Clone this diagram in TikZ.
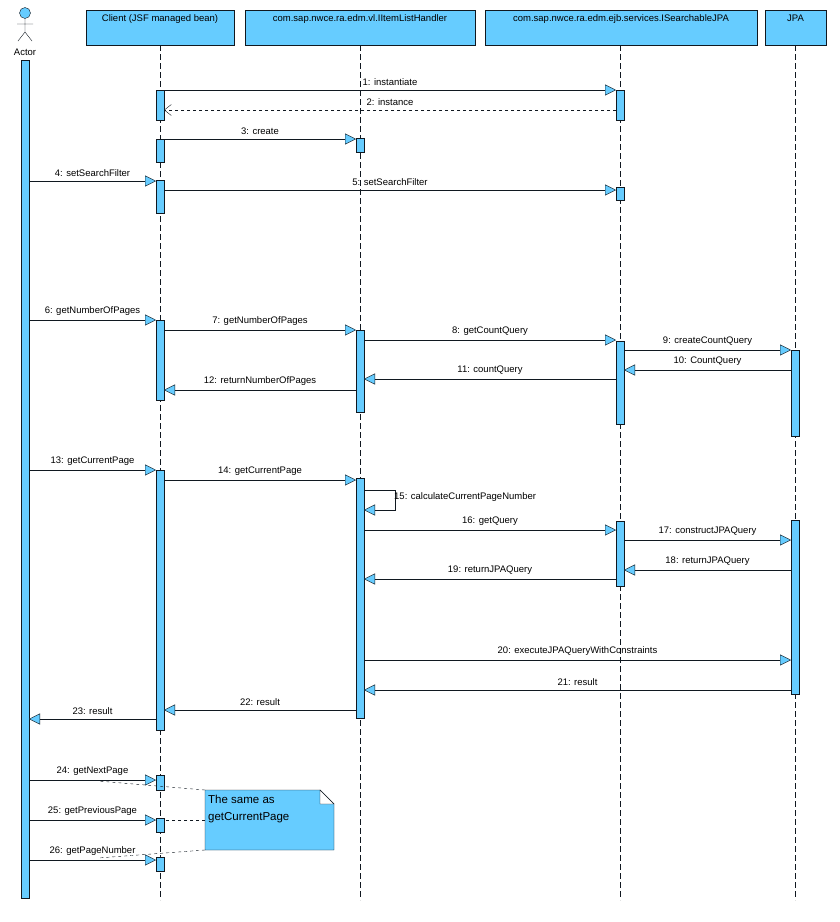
\documentclass[tikz,border=0pt]{standalone}
\usepackage{fontspec}
\setmainfont{Liberation Sans}
\usetikzlibrary{arrows.meta}
\definecolor{sb}{HTML}{66CCFF}
\definecolor{ln}{HTML}{101820}
\begin{document}
\begin{tikzpicture}[x=1pt,y=-1pt,font=\fontsize{9.5}{11}\selectfont,
  hdr/.style={draw=ln,fill=sb,anchor=north west,inner sep=0pt},
  act/.style={draw=ln,fill=sb},
  life/.style={draw=ln,dash pattern=on 6pt off 3pt},
  msg/.style={draw=ln,-{Triangle[length=11pt,width=11pt,fill=sb]}},
  ret/.style={draw=ln,dashed,-{Straight Barb[length=7pt,width=11pt]}},
  lbl/.style={above,inner sep=1pt,yshift=3.5pt}]
\useasboundingbox (0,0) rectangle (839,922);
% headers
\foreach \n/\a/\b/\t in {hc/86/234/Client (JSF managed bean),hh/245/475/com.sap.nwce.ra.edm.vl.IItemListHandler,hs/485/757/com.sap.nwce.ra.edm.ejb.services.ISearchableJPA,hj/765/826/JPA}{
  \draw[hdr] (\a,10) rectangle (\b,45);
  \node[anchor=north] (\n) at ({(\a+\b)/2},11) {\t};
}
% lifelines
\draw[life] (160,45) -- (160,900);
\draw[life] (360,45) -- (360,900);
\draw[life] (620,45) -- (620,900);
\draw[life] (795,45) -- (795,900);
% actor
\draw[ln,fill=sb] (25,13) circle (5.5);
\draw[ln] (25,18.5) -- (25,32) (17,24) -- (33,24) (25,32) -- (18,41) (25,32) -- (32,41);
\node (actor) at (25,52) {Actor};
\draw[act] (21,60) rectangle (29,898);
% activations
\foreach \x/\a/\b in {160/90/120,160/139/162,160/180/213,160/320/400,160/470/730,160/775/790,160/818/832,160/857/871,
  360/138/152,360/330/412,360/478/718,620/90/120,620/187/200,620/341/424,620/521/586,795/350/436,795/520/694}
  \draw[act] (\x-4,\a) rectangle (\x+4,\b);
% messages
\newcommand{\mymsg}[5][msg]{\draw[#1] (#2,#4) -- node[lbl]{#5} (#3,#4);}
\mymsg{164}{616}{90}{1: instantiate}
\mymsg[ret]{616}{164}{110}{2: instance}
\mymsg{164}{356}{139}{3: create}
\mymsg{29}{156}{181}{4: setSearchFilter}
\mymsg{164}{616}{190}{5: setSearchFilter}
\mymsg{29}{156}{320}{6: getNumberOfPages}
\mymsg{164}{356}{330}{7: getNumberOfPages}
\mymsg{364}{616}{340}{8: getCountQuery}
\mymsg{624}{791}{350}{9: createCountQuery}
\mymsg{791}{624}{370}{10: CountQuery}
\mymsg{616}{364}{379}{11: countQuery}
\mymsg{356}{164}{390}{12: returnNumberOfPages}
\mymsg{29}{156}{470}{13: getCurrentPage}
\mymsg{164}{356}{480}{14: getCurrentPage}
\draw[msg] (364,490) -- (395,490) -- (395,510) -- (364,510);
\node[anchor=west,inner sep=1pt] (l15) at (393,497) {15: calculateCurrentPageNumber};
\mymsg{364}{616}{530}{16: getQuery}
\mymsg{624}{791}{540}{17: constructJPAQuery}
\mymsg{791}{624}{570}{18: returnJPAQuery}
\mymsg{616}{364}{579}{19: returnJPAQuery}
\mymsg{364}{791}{660}{20: executeJPAQueryWithConstraints}
\mymsg{791}{364}{690}{21: result}
\mymsg{356}{164}{710}{22: result}
\mymsg{156}{29}{719}{23: result}
\mymsg{29}{156}{780}{24: getNextPage}
\mymsg{29}{156}{820}{25: getPreviousPage}
\mymsg{29}{156}{860}{26: getPageNumber}
% note
\draw[ln,fill=sb] (205,790) -- (320,790) -- (334,804) -- (334,850) -- (205,850) -- cycle;
\draw[ln,fill=white] (320,790) -- (334,804) -- (320,804) -- cycle;
\node[anchor=north west,align=left,inner sep=0pt,font=\fontsize{11.5}{17}\selectfont] (note) at (208,795) {The same as\\getCurrentPage};
\draw[ln,dashed] (205,790) -- (98,781);
\draw[ln,dashed] (205,820) -- (164,820);
\draw[ln,dashed] (205,850) -- (98,858);
\end{tikzpicture}
\end{document}
